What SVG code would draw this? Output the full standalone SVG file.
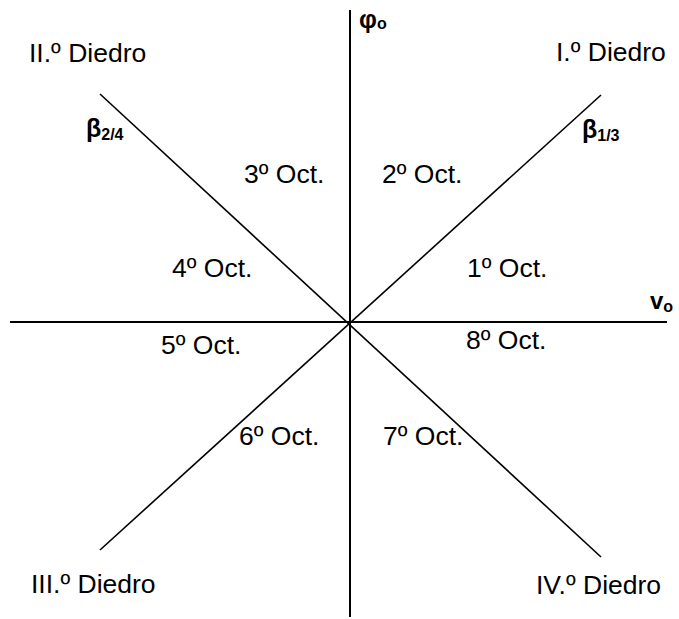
<svg xmlns="http://www.w3.org/2000/svg" width="679" height="619" viewBox="0 0 679 619">
<style>
.t{font-family:"Liberation Sans",Arial,sans-serif;font-size:26.5px;fill:#000}
.b{font-family:"Liberation Sans",Arial,sans-serif;font-weight:bold;fill:#000}
.ax{stroke:#000;stroke-width:2;fill:none}
.dg{stroke:#000;stroke-width:1.6;fill:none}
</style>
<rect width="679" height="619" fill="#fff"/>
<g id="connectors">
<line class="ax" x1="350" y1="10" x2="350" y2="617"/>
<line class="ax" x1="10" y1="322" x2="667" y2="322"/>
<line class="dg" x1="100" y1="94" x2="601" y2="557"/>
<line class="dg" x1="100" y1="550" x2="601" y2="95"/>
</g>
<g id="diedro1"><text class="t" x="556" y="61">I.º Diedro</text></g>
<g id="diedro2"><text class="t" x="29" y="62">II.º Diedro</text></g>
<g id="diedro3"><text class="t" x="31" y="593">III.º Diedro</text></g>
<g id="diedro4"><text class="t" x="536" y="594">IV.º Diedro</text></g>
<g id="oct1"><text class="t" x="467" y="277">1º Oct.</text></g>
<g id="oct2"><text class="t" x="382" y="183">2º Oct.</text></g>
<g id="oct3"><text class="t" x="244" y="183">3º Oct.</text></g>
<g id="oct4"><text class="t" x="172" y="277">4º Oct.</text></g>
<g id="oct5"><text class="t" x="161" y="354">5º Oct.</text></g>
<g id="oct6"><text class="t" x="239" y="445">6º Oct.</text></g>
<g id="oct7"><text class="t" x="383" y="445">7º Oct.</text></g>
<g id="oct8"><text class="t" x="466" y="349">8º Oct.</text></g>
<g id="phi"><text class="b" x="359" y="28" font-size="25">φ<tspan font-size="16" dy="1">o</tspan></text></g>
<g id="v"><text class="b" x="650" y="309" font-size="24">v<tspan font-size="16" dy="3">o</tspan></text></g>
<g id="beta24"><text class="b" x="86" y="137" font-size="25">β<tspan font-size="16" dy="3">2/4</tspan></text></g>
<g id="beta13"><text class="b" x="582" y="138" font-size="25">β<tspan font-size="16" dy="3">1/3</tspan></text></g>
</svg>
